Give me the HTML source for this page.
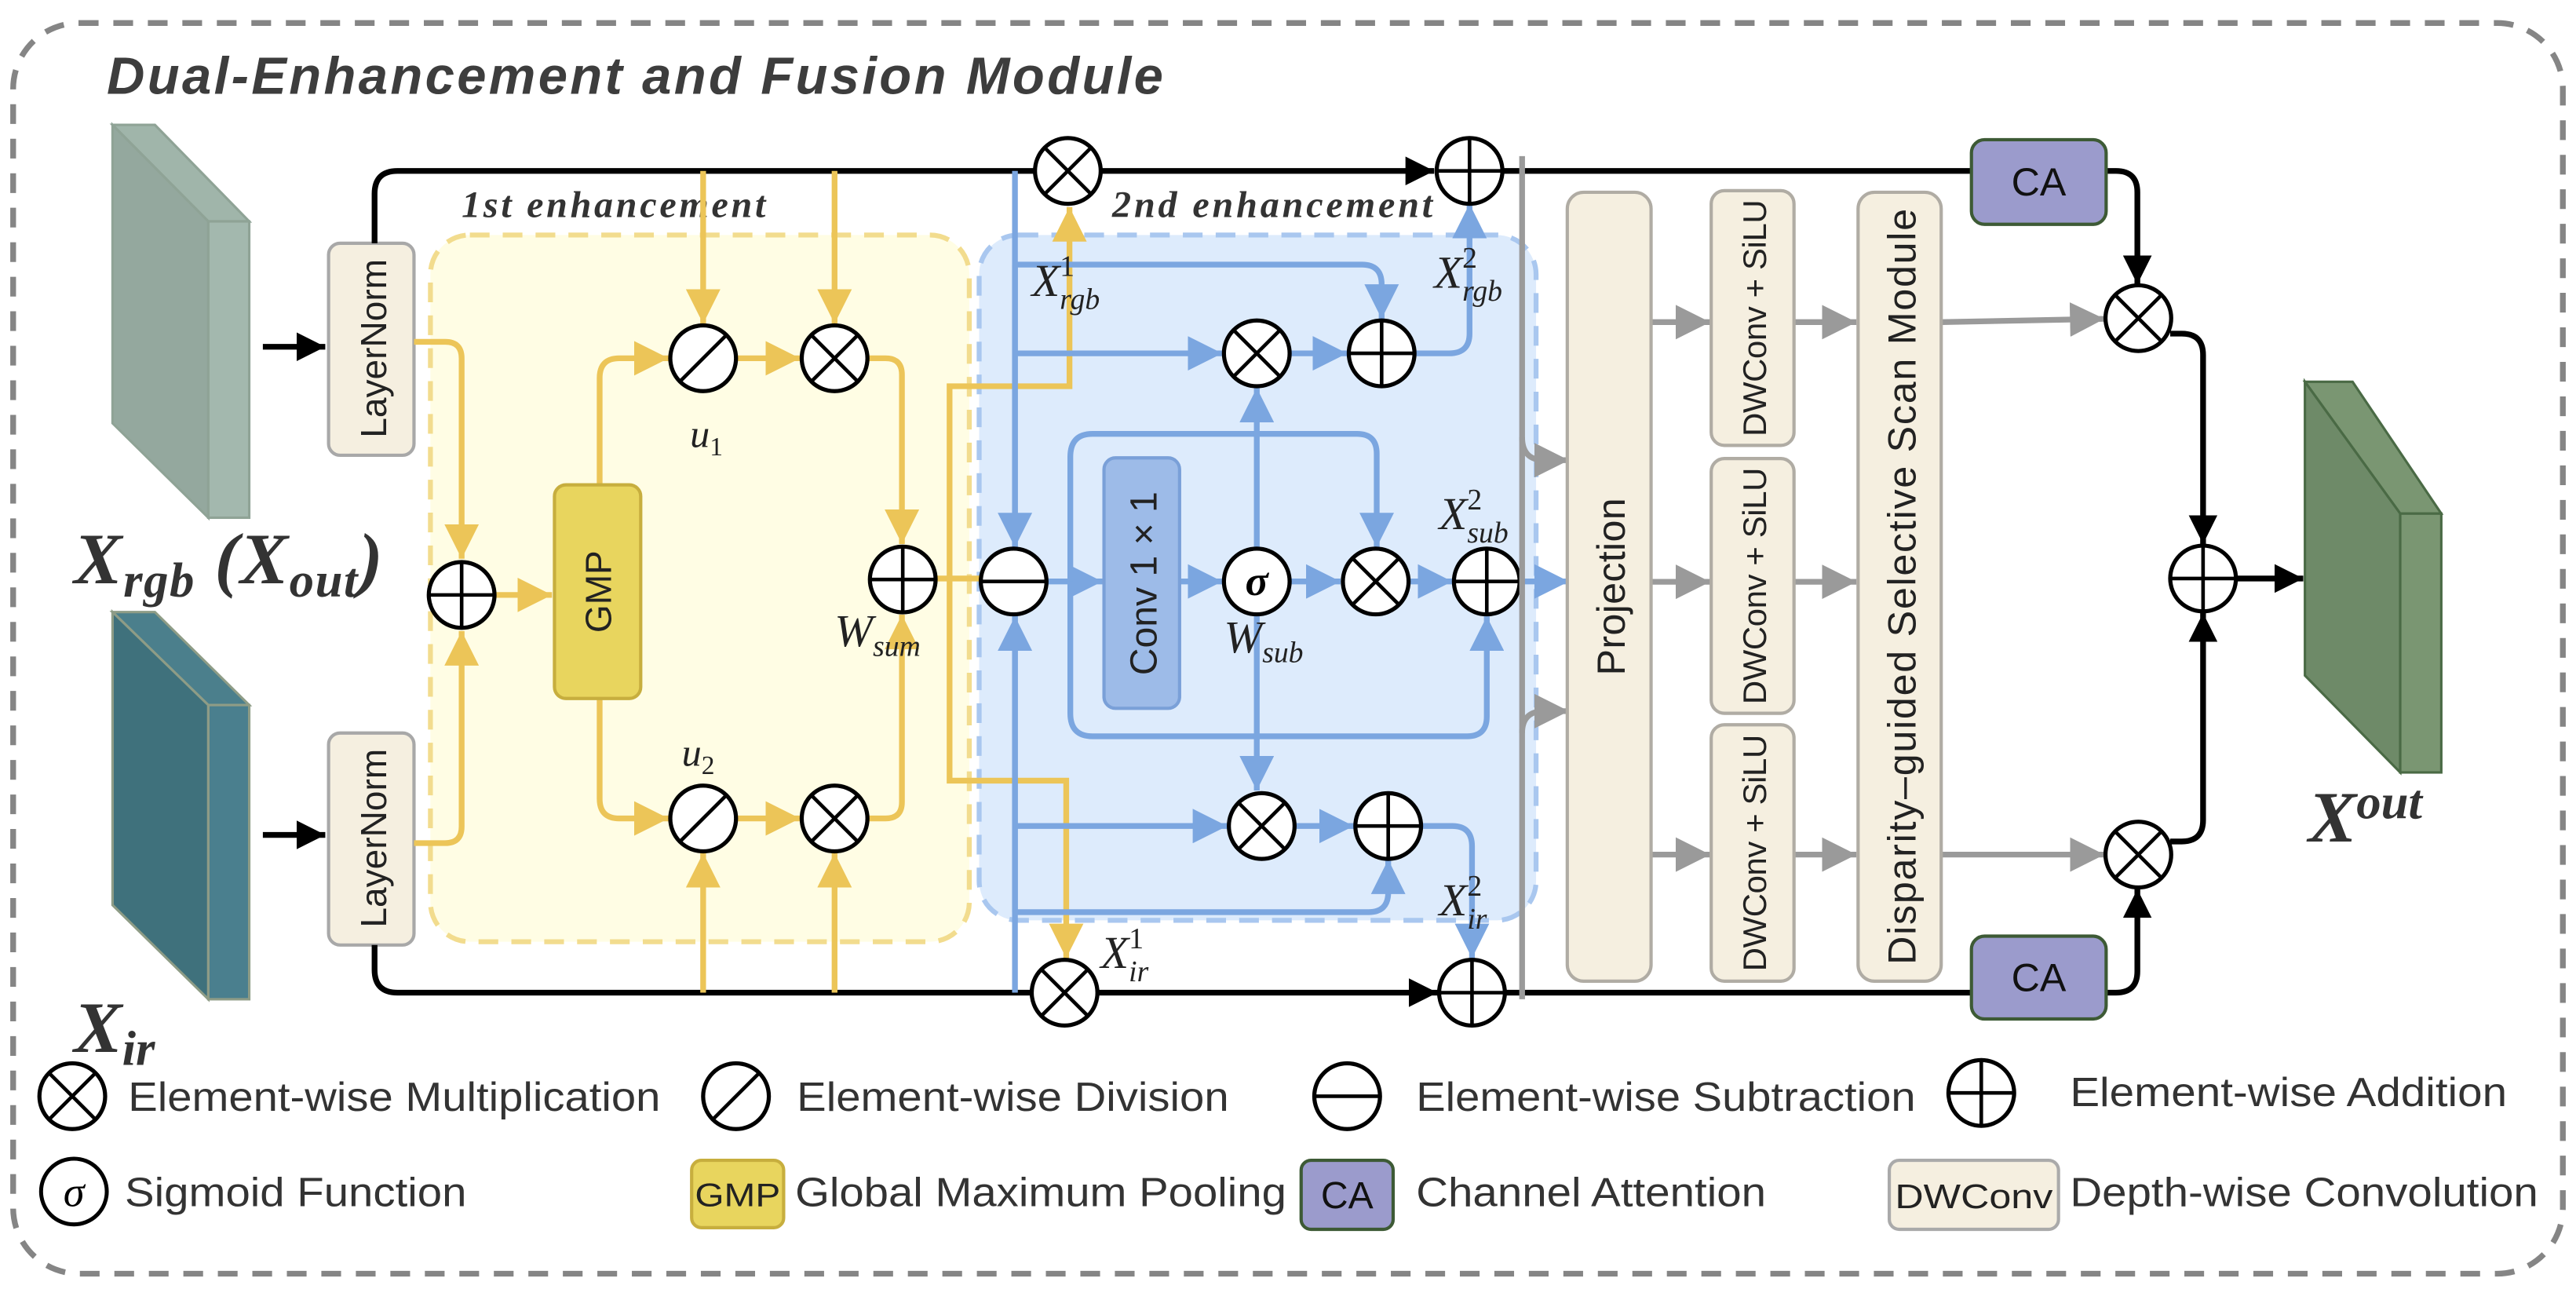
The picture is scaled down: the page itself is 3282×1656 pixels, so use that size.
<!DOCTYPE html>
<html><head><meta charset="utf-8"><style>html,body{margin:0;padding:0;background:#fff}svg{display:block}</style></head>
<body>
<svg xmlns="http://www.w3.org/2000/svg" width="3282" height="1656" viewBox="0 0 1568 791" preserveAspectRatio="none">
<defs>
<marker id="ab" viewBox="0 0 10 10" refX="10" refY="5" markerWidth="5" markerHeight="5" markerUnits="strokeWidth" orient="auto"><path d="M0,0L10,5L0,10z" fill="#000"/></marker>
<marker id="ay" viewBox="0 0 10 10" refX="10" refY="5" markerWidth="6" markerHeight="6" markerUnits="strokeWidth" orient="auto"><path d="M0,0L10,5L0,10z" fill="#ecc558"/></marker>
<marker id="au" viewBox="0 0 10 10" refX="10" refY="5" markerWidth="6" markerHeight="6" markerUnits="strokeWidth" orient="auto"><path d="M0,0L10,5L0,10z" fill="#7ba6e0"/></marker>
<marker id="ag" viewBox="0 0 10 10" refX="10" refY="5" markerWidth="6" markerHeight="6" markerUnits="strokeWidth" orient="auto"><path d="M0,0L10,5L0,10z" fill="#9a9a9a"/></marker>
<g id="mul"><circle r="20" fill="#fff" stroke="#000" stroke-width="2.5"/><path d="M-14,-14L14,14M14,-14L-14,14" stroke="#000" stroke-width="2.2"/></g>
<g id="add"><circle r="20" fill="#fff" stroke="#000" stroke-width="2.5"/><path d="M-20,0H20M0,-20V20" stroke="#000" stroke-width="2.2"/></g>
<g id="sub"><circle r="20" fill="#fff" stroke="#000" stroke-width="2.5"/><path d="M-20,0H20" stroke="#000" stroke-width="2.2"/></g>
<g id="div"><circle r="20" fill="#fff" stroke="#000" stroke-width="2.5"/><path d="M-14,14L14,-14" stroke="#000" stroke-width="2.2"/></g>
</defs>

<rect x="8" y="14" width="1552" height="761" rx="40" fill="none" stroke="#858585" stroke-width="3.5" stroke-dasharray="12,9"/>
<text x="65" y="57" font-family="Liberation Sans, sans-serif" font-weight="bold" font-style="italic" font-size="32" fill="#3d3d3d" textLength="643">Dual-Enhancement and Fusion Module</text>

<rect x="262" y="143" width="328" height="430" rx="24" fill="#fffde4" stroke="#f2dc8e" stroke-width="3" stroke-dasharray="12,8"/>
<rect x="596" y="143" width="339" height="417" rx="24" fill="#ddebfc" stroke="#a9c7ef" stroke-width="3" stroke-dasharray="12,8"/>
<text x="281" y="132" font-family="Liberation Serif, serif" font-weight="bold" font-style="italic" font-size="23" fill="#333" textLength="185">1st enhancement</text>
<text x="677" y="132" font-family="Liberation Serif, serif" font-weight="bold" font-style="italic" font-size="23" fill="#333" textLength="195">2nd enhancement</text>

<polygon points="68.5,76 94.3,76 151.7,134.7 126.8,134.7" fill="#a0b5aa" stroke="#8fa396" stroke-width="1.5"/>
<polygon points="68.5,76 126.8,134.7 126.8,315 68.5,257.5" fill="#94a89e" stroke="#8fa396" stroke-width="1.5"/>
<rect x="126.8" y="134.7" width="24.9" height="180.3" fill="#a3b8ae" stroke="#8fa396" stroke-width="1.5"/>
<polygon points="68.5,372.4 94.3,372.4 151.7,429 126.8,429" fill="#4b7f8c" stroke="#8e9c86" stroke-width="1.5"/>
<polygon points="68.5,372.4 126.8,429 126.8,608 68.5,550.7" fill="#3f717c" stroke="#8e9c86" stroke-width="1.5"/>
<rect x="126.8" y="429" width="24.9" height="179" fill="#4a7f8e" stroke="#8e9c86" stroke-width="1.5"/>
<polygon points="1403,232.3 1432,232.3 1486,312.5 1461,312.5" fill="#7a9672" stroke="#4a6a45" stroke-width="1.5"/>
<polygon points="1403,232.3 1461,312.5 1461,470 1403,411" fill="#6e8a68" stroke="#4a6a45" stroke-width="1.5"/>
<rect x="1461" y="312.5" width="25" height="157.5" fill="#7a9672" stroke="#4a6a45" stroke-width="1.5"/>

<g font-family="Liberation Serif, serif" font-weight="bold" font-style="italic" fill="#333">
<text x="45" y="355" font-size="44" textLength="188">X<tspan font-size="30" dy="8">rgb</tspan><tspan dy="-8"> (X</tspan><tspan font-size="30" dy="8">out</tspan><tspan dy="-8">)</tspan></text>
<text x="45" y="640" font-size="44">X<tspan font-size="30" dy="8">ir</tspan></text>
<text x="1405" y="512" font-size="44">X<tspan font-size="30" dy="-14">out</tspan></text>
</g>

<rect x="200" y="148" width="52" height="129" rx="7" fill="#f5efe0" stroke="#a8a8a8" stroke-width="2"/>
<rect x="200" y="446" width="52" height="129" rx="7" fill="#f5efe0" stroke="#a8a8a8" stroke-width="2"/>
<g font-family="Liberation Sans, sans-serif" font-size="22" fill="#222" text-anchor="middle">
<text transform="translate(235,212) rotate(-90)">LayerNorm</text>
<text transform="translate(235,510) rotate(-90)">LayerNorm</text>
</g>

<g stroke="#000" stroke-width="3.5" fill="none">
<path d="M160,211H198" marker-end="url(#ab)"/>
<path d="M160,508H198" marker-end="url(#ab)"/>
<path d="M228,148V118Q228,104 242,104H630"/>
<path d="M670,104H873" marker-end="url(#ab)"/>
<path d="M915,104H1200"/>
<path d="M228,575V590Q228,604 242,604H628"/>
<path d="M668,604H875" marker-end="url(#ab)"/>
<path d="M916,604H1200"/>
<path d="M1282,104H1288Q1301,104 1301,117V173" marker-end="url(#ab)"/>
<path d="M1321,203H1328Q1341,203 1341,216V331" marker-end="url(#ab)"/>
<path d="M1282,604H1288Q1301,604 1301,591V541" marker-end="url(#ab)"/>
<path d="M1321,512H1328Q1341,512 1341,499V373" marker-end="url(#ab)"/>
<path d="M1361,352H1402" marker-end="url(#ab)"/>
</g>

<g stroke="#ecc558" stroke-width="3.5" fill="none">
<path d="M252,208H271Q281,208 281,218V340" marker-end="url(#ay)"/>
<path d="M252,513H271Q281,513 281,503V384" marker-end="url(#ay)"/>
<path d="M302,362H336" marker-end="url(#ay)"/>
<path d="M365,295V230Q365,218 377,218H407" marker-end="url(#ay)"/>
<path d="M365,425V486Q365,498 377,498H407" marker-end="url(#ay)"/>
<path d="M448,218H487" marker-end="url(#ay)"/>
<path d="M448,498H487" marker-end="url(#ay)"/>
<path d="M428,104V197" marker-end="url(#ay)"/>
<path d="M508,104V197" marker-end="url(#ay)"/>
<path d="M428,604V519" marker-end="url(#ay)"/>
<path d="M508,604V519" marker-end="url(#ay)"/>
<path d="M528,218H539Q549,218 549,228V331" marker-end="url(#ay)"/>
<path d="M528,498H539Q549,498 549,488V374" marker-end="url(#ay)"/>
<path d="M570,352H597"/>
<path d="M578,352V235H651V126" marker-end="url(#ay)"/>
<path d="M578,352V475H649V583" marker-end="url(#ay)"/>
</g>
<use href="#add" x="281" y="362"/>
<rect x="337.5" y="295" width="52.5" height="130" rx="7" fill="#e8d55e" stroke="#c7ae3e" stroke-width="2"/>
<text transform="translate(372,360) rotate(-90)" font-family="Liberation Sans, sans-serif" font-size="22" fill="#222" text-anchor="middle">GMP</text>
<use href="#div" x="428" y="218"/><use href="#mul" x="508" y="218"/>
<use href="#div" x="428" y="498"/><use href="#mul" x="508" y="498"/>
<use href="#add" x="549.5" y="352.6"/>

<g stroke="#7ba6e0" stroke-width="3.5" fill="none">
<path d="M617.8,104V604"/>
<path d="M617.8,161H829Q841,161 841,173V194" marker-end="url(#au)"/>
<path d="M617.8,215H744" marker-end="url(#au)"/>
<path d="M617.8,161V333" marker-end="url(#au)"/>
<path d="M617.8,555V375" marker-end="url(#au)"/>
<path d="M617.8,502.6H747" marker-end="url(#au)"/>
<path d="M617.8,555H833Q845,555 845,543V523" marker-end="url(#au)"/>
<path d="M637,353.8H671" marker-end="url(#au)"/>
<path d="M718,353.8H744" marker-end="url(#au)"/>
<path d="M785,353.8H816" marker-end="url(#au)"/>
<path d="M857,353.8H884" marker-end="url(#au)"/>
<path d="M925,353.8H955" marker-end="url(#au)"/>
<path d="M651.5,353.8V278Q651.5,264 665,264H826Q838,264 838,276V333" marker-end="url(#au)"/>
<path d="M651.5,353.8V434Q651.5,448 665,448H893Q905,448 905,436V375" marker-end="url(#au)"/>
<path d="M765,334V236" marker-end="url(#au)"/>
<path d="M765,374V481" marker-end="url(#au)"/>
<path d="M785,215H820" marker-end="url(#au)"/>
<path d="M788,502.6H824" marker-end="url(#au)"/>
<path d="M861,215H882Q894.5,215 894.5,203V124" marker-end="url(#au)"/>
<path d="M865,502.6H884Q896,502.6 896,515V583" marker-end="url(#au)"/>
</g>
<rect x="672" y="278.6" width="46" height="152.4" rx="7" fill="#9dbbe8" stroke="#7aa0d8" stroke-width="2"/>
<text transform="translate(704,355) rotate(-90)" font-family="Liberation Sans, sans-serif" font-size="23" fill="#222" text-anchor="middle">Conv  1 × 1</text>
<use href="#sub" x="617" y="353.8"/>
<g><circle cx="765" cy="353.8" r="20" fill="#fff" stroke="#000" stroke-width="2.5"/><text x="765" y="362" font-family="Liberation Serif, serif" font-style="italic" font-weight="bold" font-size="26" text-anchor="middle">σ</text></g>
<use href="#mul" x="837.4" y="353.8"/><use href="#add" x="905" y="353.8"/>
<use href="#mul" x="765" y="215"/><use href="#add" x="841" y="215"/>
<use href="#mul" x="768" y="502.6"/><use href="#add" x="845" y="502.6"/>
<use href="#mul" x="650" y="104"/><use href="#add" x="894.5" y="104"/>
<use href="#mul" x="648" y="604"/><use href="#add" x="896" y="604"/>

<g font-family="Liberation Serif, serif" font-style="italic" fill="#222">
<text x="420" y="272" font-size="24">u<tspan font-size="16" dy="5" font-style="normal">1</tspan></text>
<text x="415" y="466" font-size="24">u<tspan font-size="16" dy="5" font-style="normal">2</tspan></text>
<text x="508" y="393" font-size="28">W<tspan font-size="18" dy="6">sum</tspan></text>
<text x="745" y="397" font-size="28">W<tspan font-size="18" dy="6">sub</tspan></text>
<text x="628" y="180" font-size="28">X<tspan font-size="18" dy="-12" font-style="normal">1</tspan><tspan font-size="18" dx="-9" dy="20">rgb</tspan></text>
<text x="873" y="175" font-size="28">X<tspan font-size="18" dy="-12" font-style="normal">2</tspan><tspan font-size="18" dx="-9" dy="20">rgb</tspan></text>
<text x="876" y="322" font-size="28">X<tspan font-size="18" dy="-12" font-style="normal">2</tspan><tspan font-size="18" dx="-9" dy="20">sub</tspan></text>
<text x="876" y="557" font-size="28">X<tspan font-size="18" dy="-12" font-style="normal">2</tspan><tspan font-size="18" dx="-9" dy="20">ir</tspan></text>
<text x="670" y="589" font-size="28">X<tspan font-size="18" dy="-12" font-style="normal">1</tspan><tspan font-size="18" dx="-9" dy="20">ir</tspan></text>
</g>

<g stroke="#9a9a9a" stroke-width="3.5" fill="none">
<path d="M926.5,95V608"/>
<path d="M926.5,266Q926.5,280 940,280H955" marker-end="url(#ag)"/>
<path d="M926.5,446Q926.5,432.7 940,432.7H955" marker-end="url(#ag)"/>
<path d="M1005,196H1041" marker-end="url(#ag)"/>
<path d="M1005,354H1041" marker-end="url(#ag)"/>
<path d="M1005,520H1041" marker-end="url(#ag)"/>
<path d="M1092,196H1130" marker-end="url(#ag)"/>
<path d="M1092,354H1130" marker-end="url(#ag)"/>
<path d="M1092,520H1130" marker-end="url(#ag)"/>
<path d="M1182,196L1281,194" marker-end="url(#ag)"/>
<path d="M1182,520H1281" marker-end="url(#ag)"/>
</g>
<g fill="#f5efe0" stroke="#b0aca4" stroke-width="2">
<rect x="954" y="117" width="51" height="480" rx="10"/>
<rect x="1041.6" y="116" width="50.4" height="155" rx="8"/>
<rect x="1041.6" y="279" width="50.4" height="155" rx="8"/>
<rect x="1041.6" y="441" width="50.4" height="156" rx="8"/>
<rect x="1131" y="117" width="50.6" height="480" rx="10"/>
</g>
<g font-family="Liberation Sans, sans-serif" fill="#222" text-anchor="middle">
<text transform="translate(989,357) rotate(-90)" font-size="24" textLength="108">Projection</text>
<text transform="translate(1075,193.5) rotate(-90)" font-size="20" textLength="144">DWConv + SiLU</text>
<text transform="translate(1075,356.5) rotate(-90)" font-size="20" textLength="144">DWConv + SiLU</text>
<text transform="translate(1075,519) rotate(-90)" font-size="20" textLength="144">DWConv + SiLU</text>
<text transform="translate(1166,357) rotate(-90)" font-size="24" textLength="460">Disparity–guided Selective Scan Module</text>
</g>
<rect x="1200" y="85" width="82" height="51.5" rx="8" fill="#9b9bcc" stroke="#3d5a35" stroke-width="2"/>
<rect x="1200" y="569.6" width="82" height="50.4" rx="8" fill="#9b9bcc" stroke="#3d5a35" stroke-width="2"/>
<g font-family="Liberation Sans, sans-serif" font-size="24" fill="#111" text-anchor="middle">
<text x="1241" y="119">CA</text><text x="1241" y="603">CA</text>
</g>
<use href="#mul" x="1301.6" y="193.6"/><use href="#mul" x="1301.6" y="520"/>
<use href="#add" x="1341" y="352"/>

<g font-family="Liberation Sans, sans-serif" font-size="25" fill="#333">
<use href="#mul" x="44" y="667"/>
<text x="78" y="676" textLength="324" lengthAdjust="spacingAndGlyphs">Element-wise Multiplication</text>
<use href="#div" x="448" y="667"/>
<text x="485" y="676" textLength="263" lengthAdjust="spacingAndGlyphs">Element-wise Division</text>
<use href="#sub" x="820" y="667"/>
<text x="862" y="676" textLength="304" lengthAdjust="spacingAndGlyphs">Element-wise Subtraction</text>
<use href="#add" x="1206" y="665"/>
<text x="1260" y="673" textLength="266" lengthAdjust="spacingAndGlyphs">Element-wise Addition</text>
<circle cx="45" cy="725" r="20" fill="#fff" stroke="#000" stroke-width="2.4"/>
<text x="45" y="734" font-family="Liberation Serif, serif" font-style="italic" font-size="26" text-anchor="middle" fill="#000">σ</text>
<text x="76" y="734" textLength="208" lengthAdjust="spacingAndGlyphs">Sigmoid Function</text>
<rect x="421" y="706" width="56" height="41" rx="6" fill="#e8d55e" stroke="#c7ae3e" stroke-width="2"/>
<text x="449" y="734" text-anchor="middle" fill="#222" font-size="20" textLength="52" lengthAdjust="spacingAndGlyphs">GMP</text>
<text x="484" y="734" textLength="299" lengthAdjust="spacingAndGlyphs">Global Maximum Pooling</text>
<rect x="792" y="706" width="56" height="42" rx="6" fill="#9b9bcc" stroke="#3d5a35" stroke-width="2"/>
<text x="820" y="735" text-anchor="middle" fill="#111" font-size="23">CA</text>
<text x="862" y="734" textLength="213" lengthAdjust="spacingAndGlyphs">Channel Attention</text>
<rect x="1150" y="706" width="103" height="42" rx="6" fill="#f5efe0" stroke="#aaa" stroke-width="2"/>
<text x="1201.5" y="735" text-anchor="middle" fill="#222" font-size="21" textLength="96" lengthAdjust="spacingAndGlyphs">DWConv</text>
<text x="1260" y="734" textLength="285" lengthAdjust="spacingAndGlyphs">Depth-wise Convolution</text>
</g>
</svg>
</body></html>
